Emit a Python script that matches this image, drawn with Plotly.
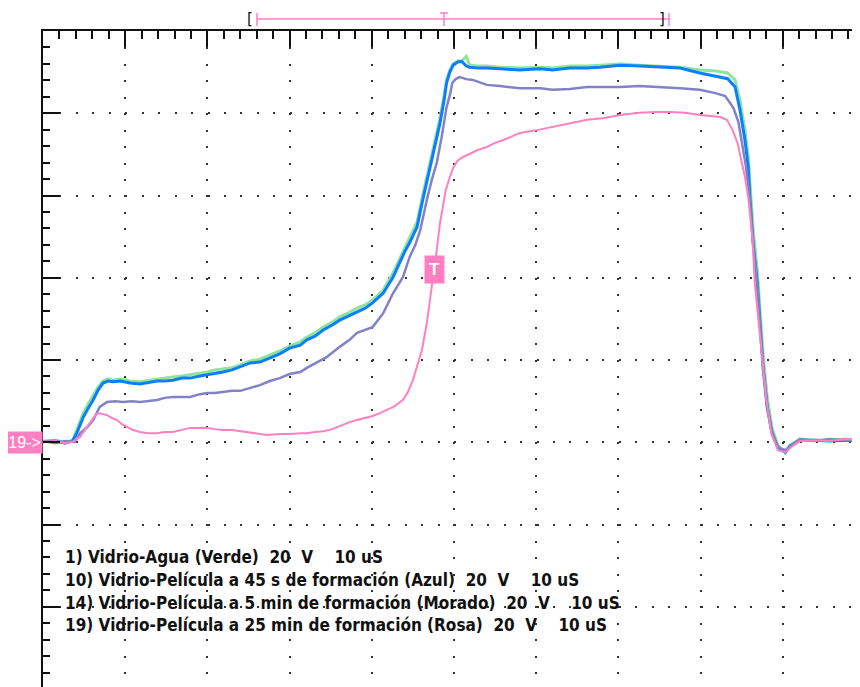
import plotly.graph_objects as go

# Scope screen: 10 uS/div horizontally, 20 V/div vertically, centre = (0 us, 0 V)
T_RANGE = [-50.0, 49.4]
V_RANGE = [-79.5, 80.0]

_VERDE = "#8fe39a"
_AZUL = "#0a80ff"
_MORADO = "#8282c8"
_ROSA = "#ff80c0"
_INK = "#111111"

# 1) Vidrio-Agua (Verde) and 10) 45 s film (Azul) share a time base
azul_t = [-50.0, -48.5, -47.3, -46.4, -45.9, -45.1, -44.5, -43.9, -43.3, -42.7,
          -42.1, -41.5, -40.6, -39.4, -38.2, -37.0, -36.1, -35.2, -34.2, -33.1,
          -32.1, -30.9, -30.0, -29.1, -28.1, -27.0, -26.0, -24.8, -23.6, -22.4,
          -21.2, -20.0, -18.7, -17.9, -16.9, -15.9, -14.8, -13.9, -12.9, -11.8,
          -10.8, -9.9, -8.6, -7.4, -6.6, -6.0, -5.4, -4.5, -3.8, -3.3,
          -2.9, -2.3, -1.7, -1.2, -0.9, -0.5, -0.1, 0.5, 1.0, 1.5,
          1.9, 2.9, 4.0, 5.6, 8.0, 10.5, 12.0, 14.1, 16.2, 17.8,
          20.2, 22.6, 25.1, 27.5, 29.9, 31.8, 33.3, 34.2, 34.8, 35.4,
          35.8, 36.0, 36.4, 36.9, 37.2, 37.6, 38.1, 38.7, 39.4, 40.3,
          40.9, 42.1, 43.9, 45.7, 47.6, 49.4]
azul_v = [-19.9, -19.7, -20.2, -19.7, -17.8, -13.9, -11.7, -9.7, -7.3, -5.6,
          -5.1, -5.3, -5.1, -5.6, -5.8, -5.3, -5.1, -5.1, -4.9, -4.4,
          -4.4, -3.9, -3.6, -3.4, -2.9, -2.4, -1.7, -0.7, -0.5, 0.5,
          1.5, 2.9, 3.6, 4.9, 5.8, 7.3, 8.5, 9.7, 10.7, 11.7,
          12.6, 13.9, 16.3, 20.2, 23.8, 26.3, 28.5, 32.3, 38.9, 43.3,
          46.9, 51.8, 57.6, 63.2, 67.4, 70.0, 71.7, 72.5, 72.5, 71.5,
          71.2, 71.0, 71.0, 70.8, 70.5, 70.8, 70.5, 71.0, 71.0, 71.2,
          71.7, 71.5, 71.2, 71.0, 69.8, 69.1, 68.4, 66.4, 60.8, 53.5,
          46.9, 39.6, 28.4, 18.7, 10.5, -1.7, -11.4, -17.8, -21.2, -22.4,
          -20.9, -19.5, -19.5, -19.7, -19.5, -19.7]
verde_v = [-19.7, -19.5, -20.0, -19.5, -17.0, -12.9, -10.7, -8.8, -6.6, -5.1,
           -4.6, -4.9, -4.6, -5.1, -5.3, -4.9, -4.6, -4.4, -4.1, -3.9,
           -3.6, -3.2, -2.9, -2.4, -2.2, -1.9, -1.2, -0.2, 0.2, 1.2,
           2.2, 3.4, 4.4, 5.6, 6.6, 8.0, 9.2, 10.5, 11.4, 12.6,
           13.4, 14.6, 17.0, 21.2, 24.8, 27.2, 29.7, 33.5, 40.1, 44.5,
           48.1, 53.0, 58.8, 64.2, 68.1, 70.5, 72.0, 72.7, 72.8, 73.8,
           71.7, 71.5, 71.5, 71.2, 71.0, 71.2, 71.0, 71.5, 71.5, 71.7,
           72.0, 71.7, 71.5, 71.2, 70.5, 70.3, 69.8, 68.1, 63.0, 56.0,
           49.6, 42.8, 31.6, 21.9, 13.6, 1.5, -9.0, -16.5, -20.7, -22.6,
           -20.7, -19.2, -19.5, -19.5, -19.2, -19.5]

# 14) 5 min film (Morado)
morado_t = [-50.0, -48.5, -47.3, -46.1, -45.5, -44.6, -43.9, -43.1, -42.2, -41.2,
            -40.3, -39.2, -38.2, -37.2, -36.1, -35.2, -34.2, -33.1, -32.1, -30.9,
            -30.0, -29.1, -28.1, -27.0, -26.0, -24.8, -23.6, -22.4, -21.2, -20.0,
            -18.7, -17.9, -16.7, -15.5, -13.9, -12.7, -11.8, -10.8, -9.9, -8.6,
            -7.4, -6.2, -5.4, -4.7, -4.1, -3.3, -2.7, -2.1, -1.5, -0.9,
            -0.5, -0.2, 0.2, 0.7, 1.5, 2.3, 3.2, 4.0, 5.6, 8.0,
            10.5, 12.0, 14.1, 16.2, 17.8, 20.2, 22.6, 25.1, 27.5, 29.9,
            31.8, 33.0, 34.0, 34.6, 35.0, 35.5, 36.0, 36.4, 36.9, 37.2,
            37.6, 38.1, 38.7, 39.4, 40.3, 41.1, 42.1, 43.9, 45.7, 47.6, 49.4]
morado_v = [-19.7, -20.2, -19.7, -19.9, -17.8, -16.3, -14.6, -11.4, -10.2, -10.0,
            -10.2, -10.0, -10.2, -10.0, -9.7, -9.2, -9.0, -9.0, -9.0, -8.3,
            -8.0, -8.0, -7.8, -7.5, -7.5, -6.8, -6.1, -5.1, -4.4, -3.4,
            -2.9, -1.9, -0.5, 0.7, 3.2, 4.9, 6.6, 7.3, 8.0, 11.4,
            16.3, 20.2, 25.0, 28.0, 31.6, 38.9, 43.8, 47.9, 54.2, 61.5,
            64.4, 67.4, 68.3, 68.8, 68.3, 68.1, 67.4, 66.9, 66.6, 66.1,
            66.1, 65.7, 65.9, 66.4, 66.4, 66.4, 66.6, 66.4, 66.1, 65.7,
            64.9, 64.2, 61.3, 57.9, 53.5, 47.4, 38.9, 28.4, 18.2, 9.7,
            -1.2, -10.9, -17.5, -21.2, -21.9, -20.7, -19.2, -19.7, -19.2, -19.5, -19.5]

# 19) 25 min film (Rosa)
rosa_t = [-50.0, -48.5, -47.3, -46.4, -45.5, -44.9, -44.3, -43.7, -43.3, -42.7,
          -42.2, -41.6, -41.0, -40.4, -39.8, -39.1, -38.2, -37.2, -36.1, -35.2,
          -34.2, -33.1, -32.1, -30.9, -30.0, -29.1, -28.1, -27.0, -26.0, -24.8,
          -23.6, -22.8, -21.2, -20.0, -18.7, -17.9, -16.9, -15.9, -14.8, -13.9,
          -12.7, -11.8, -10.8, -9.9, -9.0, -8.2, -7.2, -6.2, -5.6, -5.0,
          -4.4, -3.9, -3.3, -2.9, -2.6, -2.1, -1.7, -1.3, -1.0, -0.5,
          -0.1, 0.4, 1.1, 1.9, 2.9, 4.0, 5.0, 6.0, 7.1, 8.0,
          10.1, 12.0, 14.1, 16.2, 18.1, 20.2, 22.6, 24.5, 26.3, 28.1,
          29.9, 31.4, 32.4, 33.2, 33.9, 34.5, 35.0, 35.4, 35.8, 36.3,
          36.6, 37.0, 37.5, 38.0, 38.6, 39.4, 40.3, 41.2, 42.1, 43.9,
          45.7, 47.6, 49.4]
rosa_v = [-19.9, -19.7, -20.2, -19.9, -18.7, -17.0, -15.3, -13.6, -12.9, -13.1,
          -13.4, -14.1, -14.6, -15.6, -16.3, -17.0, -17.5, -17.8, -17.8, -17.5,
          -17.5, -17.0, -16.5, -16.5, -16.5, -16.8, -17.0, -17.0, -17.3, -17.5,
          -18.0, -18.2, -18.0, -18.0, -17.8, -17.8, -17.5, -17.3, -16.8, -16.0,
          -15.1, -14.6, -14.1, -13.6, -12.9, -12.2, -11.2, -9.7, -7.8, -4.9,
          -1.2, 2.4, 9.0, 14.6, 19.5, 26.7, 33.3, 37.7, 41.3, 44.5,
          46.7, 48.4, 49.4, 50.1, 51.1, 51.8, 52.8, 53.5, 54.5, 55.2,
          55.9, 56.7, 57.4, 58.4, 58.8, 59.6, 60.1, 60.3, 60.3, 60.1,
          59.6, 59.3, 59.1, 58.4, 55.9, 52.8, 48.6, 44.5, 39.6, 29.9,
          18.7, 10.5, 0.0, -9.7, -17.8, -21.9, -22.4, -20.9, -19.7, -19.5,
          -19.7, -19.2, -19.5]

LEYENDA = [
    "1) Vidrio-Agua (Verde)  20  V    10 uS",
    "10) Vidrio-Película a 45 s de formación (Azul)  20  V    10 uS",
    "14) Vidrio-Película a 5 min de formación (Morado)  20  V    10 uS",
    "19) Vidrio-Película a 25 min de formación (Rosa)  20  V    10 uS",
]
LEYENDA_V = [-47.9, -53.5, -59.1, -64.4]
TRIGGER = (-2.4, 21.9)
CH19_REF = -20.0

fig = go.Figure()
for t, v, col, w in [(azul_t, verde_v, _VERDE, 3), (azul_t, azul_v, _AZUL, 3),
                     (morado_t, morado_v, _MORADO, 2.5), (rosa_t, rosa_v, _ROSA, 2)]:
    fig.add_trace(go.Scatter(x=t, y=v, mode="lines", line=dict(color=col, width=w),
                             hoverinfo="skip", showlegend=False))

for txt, y in zip(LEYENDA, LEYENDA_V):
    fig.add_annotation(x=-47.6, y=y, xref="x", yref="y", xanchor="left", yanchor="middle",
                       text=txt.replace(" ", "\u00a0"), showarrow=False,
                       font=dict(family="DejaVu Sans Condensed, Liberation Sans, Arial",
                                 size=17, weight="bold", color=_INK))

fig.add_annotation(x=0, y=CH19_REF, xref="paper", yref="y", xanchor="right", yanchor="middle",
                   text="19->", showarrow=False, bgcolor=_ROSA, borderpad=1,
                   width=33, height=19,
                   font=dict(family="Liberation Sans, Arial", size=16, color="white"))
fig.add_annotation(x=TRIGGER[0], y=TRIGGER[1], xref="x", yref="y", text="<b>T</b>",
                   showarrow=False, bgcolor=_ROSA, borderpad=4,
                   font=dict(family="Liberation Sans, Arial", size=17, color="white"))


# memory window bar above the graticule (page pixels -> paper fractions)
def px(xp):
    return (xp - 43) / 817


def py(yp):
    return (687 - yp) / 656


bar = dict(color=_ROSA, width=1.5)
fig.add_shape(type="line", xref="paper", yref="paper", x0=px(257), x1=px(669),
              y0=py(19), y1=py(19), line=bar)
for xb in (257, 669, 444):
    fig.add_shape(type="line", xref="paper", yref="paper", x0=px(xb), x1=px(xb),
                  y0=py(13), y1=py(26), line=bar)
fig.add_shape(type="line", xref="paper", yref="paper", x0=px(440), x1=px(448),
              y0=py(13), y1=py(13), line=bar)
for xb, ch in ((250, "["), (662, "]")):
    fig.add_annotation(x=px(xb), y=py(19), xref="paper", yref="paper", text=ch,
                       xanchor="center", yanchor="middle", showarrow=False,
                       font=dict(family="DejaVu Sans", size=15, color=_INK))

tick = dict(tickcolor=_INK, tickwidth=2, showticklabels=False)
dots_x = "2px,14.44px"
dots_y = "2px,14.45px"
mid_x = (0 - V_RANGE[0]) / (V_RANGE[1] - V_RANGE[0])
mid_y = (0 - T_RANGE[0]) / (T_RANGE[1] - T_RANGE[0])

fig.update_layout(
    # the page body adds an 8 px offset, so the figure is drawn 8 px smaller
    width=852, height=679, margin=dict(l=35, r=0, t=23, b=0, pad=0),
    paper_bgcolor="white", plot_bgcolor="white", showlegend=False,
    xaxis=dict(range=T_RANGE, side="top", showline=True, linewidth=2, linecolor=_INK,
               ticks="inside", ticklen=16, dtick=10, tick0=0, zeroline=False,
               showgrid=True, gridcolor="#333", gridwidth=2, griddash=dots_x,
               minor=dict(ticks="inside", ticklen=8, dtick=2, tick0=0,
                          tickcolor=_INK, tickwidth=2, showgrid=False),
               fixedrange=True, **tick),
    xaxis2=dict(range=T_RANGE, overlaying="x", anchor="free", position=mid_x,
                showline=True, linewidth=2, linecolor=_INK, ticks="inside",
                ticklen=13, dtick=10, tick0=0, showgrid=False, zeroline=False,
                minor=dict(ticks="inside", ticklen=6, dtick=2, tick0=0,
                           tickcolor=_INK, tickwidth=2), **tick),
    xaxis3=dict(range=T_RANGE, overlaying="x", anchor="free", position=mid_x,
                showline=False, ticks="outside", ticklen=13, dtick=10, tick0=0,
                showgrid=False, zeroline=False,
                minor=dict(ticks="outside", ticklen=6, dtick=2, tick0=0,
                           tickcolor=_INK, tickwidth=2), **tick),
    xaxis4=dict(range=T_RANGE, overlaying="x", anchor="free", position=0,
                showline=False, ticks="inside", ticklen=14, dtick=10, tick0=0,
                showgrid=False, zeroline=False,
                minor=dict(ticks="inside", ticklen=6, dtick=2, tick0=0,
                           tickcolor=_INK, tickwidth=2), **tick),
    yaxis=dict(range=V_RANGE, showline=True, linewidth=2, linecolor=_INK,
               ticks="inside", ticklen=17, dtick=20, tick0=0, zeroline=False,
               showgrid=True, gridcolor="#333", gridwidth=2, griddash=dots_y,
               minor=dict(ticks="inside", ticklen=7, dtick=4, tick0=0,
                          tickcolor=_INK, tickwidth=2, showgrid=False),
               fixedrange=True, **tick),
    yaxis2=dict(range=V_RANGE, overlaying="y", anchor="free", position=mid_y,
                showline=True, linewidth=2, linecolor=_INK, ticks="inside",
                ticklen=13, dtick=20, tick0=0, showgrid=False, zeroline=False,
                minor=dict(ticks="inside", ticklen=6, dtick=4, tick0=0,
                           tickcolor=_INK, tickwidth=2), **tick),
    yaxis3=dict(range=V_RANGE, overlaying="y", anchor="free", position=mid_y,
                showline=False, ticks="outside", ticklen=13, dtick=20, tick0=0,
                showgrid=False, zeroline=False,
                minor=dict(ticks="outside", ticklen=6, dtick=4, tick0=0,
                           tickcolor=_INK, tickwidth=2), **tick),
    yaxis4=dict(range=V_RANGE, overlaying="y", anchor="free", position=1, side="right",
                showline=False, ticks="inside", ticklen=11, dtick=20, tick0=0,
                showgrid=False, zeroline=False,
                minor=dict(ticks="inside", ticklen=2, dtick=4, tick0=0,
                           tickcolor=_INK, tickwidth=2), **tick),
)

fig.write_html("out.html")
